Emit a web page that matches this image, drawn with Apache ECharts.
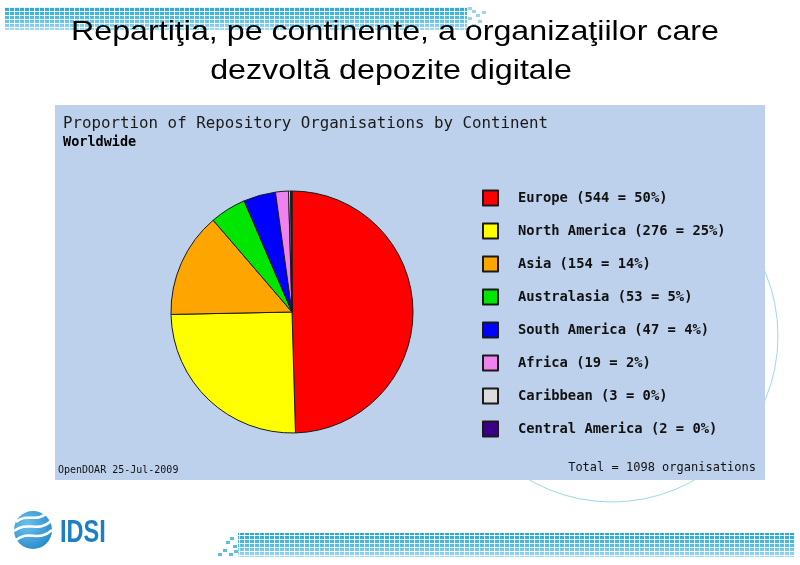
<!DOCTYPE html>
<html>
<head>
<meta charset="utf-8">
<script src="https://cdn.jsdelivr.net/npm/echarts@6/dist/echarts.min.js"></script>
<style>
  html, body { margin: 0; padding: 0; background: #ffffff; }
  #chart { width: 800px; height: 565px; }
</style>
</head>
<body>
<div id="chart"></div>
<script>
// Repository organisations per continent (OpenDOAR, 25-Jul-2009)
const categories = ['Europe', 'North America', 'Asia', 'Australasia',
                    'South America', 'Africa', 'Caribbean', 'Central America'];
const counts = [544, 276, 154, 53, 47, 19, 3, 2];
const sliceColors = ['#ff0000', '#ffff00', '#ffa500', '#00e600',
                     '#0000ff', '#ee82ee', '#dcdcdc', '#3a0087'];

const total = counts.reduce((a, b) => a + b, 0);
const pct = v => Math.round(v / total * 100);
const legendText = {};
categories.forEach((c, i) => {
  legendText[c] = c + ' (' + counts[i] + ' = ' + pct(counts[i]) + '%)';
});

// Small tile grid used to fill the decorative stripes
function gridPattern(w, h) {
  const cv = document.createElement('canvas');
  cv.width = w; cv.height = h;
  const ctx = cv.getContext('2d');
  ctx.fillStyle = 'rgba(255,255,255,0.85)';
  ctx.fillRect(w - 1, 0, 1, h);
  ctx.fillRect(0, h - 1, w, 1);
  return cv;
}
const tiles = gridPattern(5, 4);

function stripe(x, y, w, h) {
  return [
    { type: 'rect', shape: { x: x, y: y, width: w, height: h }, silent: true,
      style: { fill: new echarts.graphic.LinearGradient(0, 0, 0, 1, [
        { offset: 0, color: '#2aa6cf' }, { offset: 0.5, color: '#55bde0' },
        { offset: 1, color: '#a4d9ee' }]) } },
    { type: 'rect', shape: { x: x, y: y, width: w, height: h }, silent: true,
      style: { fill: { image: tiles, repeat: 'repeat' } } }
  ];
}

// Scattered tiles at the end of a stripe
function scatter(cells, color) {
  return cells.map(p => ({
    type: 'rect', silent: true,
    shape: { x: p[0], y: p[1], width: 4, height: 3 },
    style: { fill: color }
  }));
}

// Slide heading, drawn slightly widened like the slide's stretched text
function heading(text, cx, y) {
  return {
    type: 'text', silent: true, x: cx, y: y, scaleX: 1.15,
    style: { x: 0, y: 0, text: text, fill: '#000000',
             font: '28px "Liberation Sans"', textAlign: 'center',
             textVerticalAlign: 'middle' }
  };
}

const chart = echarts.init(document.getElementById('chart'), null, { renderer: 'canvas' });

const mono = 'DejaVu Sans Mono';

chart.setOption({
  animation: false,
  backgroundColor: '#ffffff',
  title: [
    {
      text: 'Proportion of Repository Organisations by Continent',
      subtext: 'Worldwide',
      left: 58, top: 111, itemGap: 3,
      textStyle: { fontFamily: mono, fontWeight: 'normal', fontSize: 15.8,
                   color: '#1a1a1a' },
      subtextStyle: { fontFamily: mono, fontWeight: 'bold', fontSize: 13.5,
                      color: '#000000' }
    }
  ],
  legend: {
    orient: 'vertical',
    left: 482, top: 189.5, padding: 0,
    itemWidth: 15, itemHeight: 15, itemGap: 16,
    icon: 'rect',
    selectedMode: false,
    data: categories,
    formatter: name => legendText[name],
    textStyle: { fontFamily: mono, fontWeight: 'bold', fontSize: 13.8,
                 lineHeight: 15, color: '#111111', padding: [0, 0, 0, 15] }
  },
  graphic: [
    heading('Repartiţia, pe continente, a organizaţiilor care', 395, 32),
    heading('dezvoltă depozite digitale', 391, 71),
    // faint circular ornament behind the panel
    { type: 'circle', silent: true, z: -10,
      shape: { cx: 612, cy: 336, r: 166 },
      style: { fill: 'none', stroke: '#9fd6e6', lineWidth: 1 } },
    // chart panel
    { type: 'rect', silent: true, z: -5,
      shape: { x: 55, y: 105, width: 710, height: 375 },
      style: { fill: '#bdd1ec' } },
    // top stripe
    ...stripe(5, 7, 462, 23).map(g => Object.assign(g, { z: -20 })),
    ...scatter([[468, 7], [472, 10], [476, 14], [468, 17], [478, 20], [472, 24], [482, 11]],
               '#9fd3e6').map(g => Object.assign(g, { z: -20 })),
    // bottom stripe
    ...stripe(238, 533, 557, 24).map(g => Object.assign(g, { z: -20 })),
    ...scatter([[230, 537], [226, 541], [233, 545], [223, 549], [229, 553], [218, 553], [234, 550]],
               '#5bbde0').map(g => Object.assign(g, { z: -20 })),
    // IDSI logo: striped globe
    { type: 'circle', silent: true,
      shape: { cx: 33, cy: 530, r: 19 },
      style: { fill: new echarts.graphic.RadialGradient(0.35, 0.35, 0.8, [
        { offset: 0, color: '#6cc0ec' }, { offset: 1, color: '#1f86c8' }]) } },
    { type: 'bezierCurve', silent: true,
      shape: { x1: 16, y1: 522, x2: 48, y2: 512, cpx1: 28, cpy1: 512, cpx2: 36, cpy2: 524 },
      style: { stroke: '#ffffff', lineWidth: 2.5, fill: 'none' } },
    { type: 'bezierCurve', silent: true,
      shape: { x1: 14, y1: 531, x2: 52, y2: 520, cpx1: 28, cpy1: 520, cpx2: 38, cpy2: 534 },
      style: { stroke: '#ffffff', lineWidth: 2.5, fill: 'none' } },
    { type: 'bezierCurve', silent: true,
      shape: { x1: 16, y1: 540, x2: 52, y2: 530, cpx1: 30, cpy1: 529, cpx2: 38, cpy2: 543 },
      style: { stroke: '#ffffff', lineWidth: 2.5, fill: 'none' } },
    { type: 'text', silent: true, x: 60, y: 533, scaleX: 0.76,
      style: { x: 0, y: 0, text: 'IDSI', fill: '#1c7fc4',
               font: 'bold 31px "Liberation Sans"',
               textVerticalAlign: 'middle' } },
    // panel footer
    { type: 'text', silent: true,
      style: { x: 58, y: 470, text: 'OpenDOAR 25-Jul-2009', fill: '#111111',
               font: '10px "DejaVu Sans Mono"', textVerticalAlign: 'middle' } },
    { type: 'text', silent: true,
      style: { x: 756, y: 468, text: 'Total = ' + total + ' organisations',
               fill: '#111111', font: '12px "DejaVu Sans Mono"',
               textAlign: 'right', textVerticalAlign: 'middle' } }
  ],
  series: [
    {
      type: 'pie',
      center: [292, 312],
      radius: 121,
      startAngle: 90,
      clockwise: true,
      avoidLabelOverlap: false,
      label: { show: false },
      labelLine: { show: false },
      emphasis: { disabled: true },
      itemStyle: { borderColor: '#1a1a1a', borderWidth: 1 },
      data: categories.map((c, i) => ({
        name: c, value: counts[i], itemStyle: { color: sliceColors[i] }
      }))
    }
  ]
});
</script>
</body>
</html>
